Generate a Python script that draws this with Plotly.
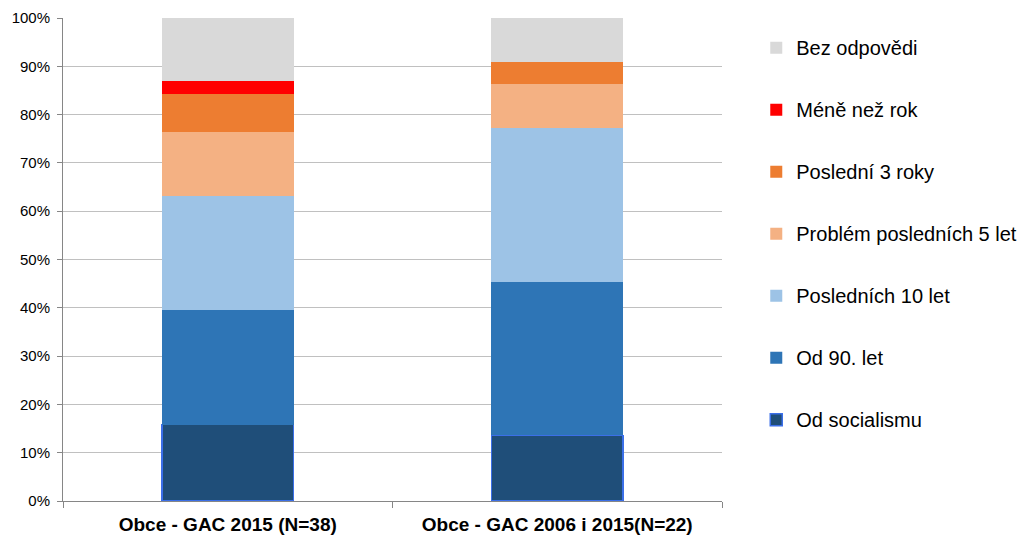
import plotly.graph_objects as go

categories = ["Obce - GAC 2015 (N=38)", "Obce - GAC 2006 i 2015(N=22)"]
series_names = ["Od socialismu", "Od 90. let", "Posledních 10 let",
                "Problém posledních 5 let", "Poslední 3 roky", "Méně než rok", "Bez odpovědi"]
od_socialismu = [15.8, 13.6]
od_90_let = [23.7, 31.8]
poslednich_10_let = [23.7, 31.8]
problem_5_let = [13.2, 9.1]
posledni_3_roky = [7.9, 4.5]
mene_nez_rok = [2.6, 0.0]
bez_odpovedi = [13.2, 9.1]
values = [od_socialismu, od_90_let, poslednich_10_let, problem_5_let,
          posledni_3_roky, mene_nez_rok, bez_odpovedi]
colors = ["#1f4e79", "#2e75b6", "#9dc3e6", "#f4b183", "#ed7d31", "#ff0000", "#d9d9d9"]
y_ticks = list(range(0, 101, 10))
y_ticklabels = [f"{t}%" for t in y_ticks]

fig = go.Figure()
n = len(series_names)
for i, (name, vals, col) in enumerate(zip(series_names, values, colors)):
    line = dict(color="#3b6fe8", width=1.5) if i == 0 else dict(width=0)
    fig.add_trace(go.Bar(
        x=categories, y=vals, name=name, marker=dict(color=col, line=line),
        width=0.4, legendgroup=f"g{i}", legendrank=1000 - i))

fig.update_layout(
    barmode="stack",
    width=1024, height=535,
    margin=dict(l=55, r=310, t=10, b=42, autoexpand=False),
    plot_bgcolor="white", paper_bgcolor="white",
    font=dict(family="Liberation Sans, Arial, sans-serif", color="#000000"),
    legend=dict(x=1.052, y=0.979, xanchor="left", yanchor="top",
                traceorder="grouped", tracegroupgap=33,
                font=dict(size=20), itemwidth=30),
    showlegend=True,
)
fig.update_yaxes(range=[0, 100], tickvals=y_ticks, ticktext=y_ticklabels,
                 showgrid=True, gridcolor="#c0c0c0", gridwidth=1,
                 showline=True, linecolor="#868686", linewidth=1,
                 ticks="outside", ticklen=5, tickcolor="#868686",
                 ticklabelstandoff=4,
                 tickfont=dict(size=15), zeroline=False, automargin=False)
fig.update_xaxes(showline=True, linecolor="#868686", linewidth=1,
                 ticks="outside", ticklen=6, tickcolor="#868686",
                 tickson="boundaries", automargin=False, ticklabelstandoff=6,
                 tickfont=dict(size=19, weight="bold"))

fig.write_html("out.html")
